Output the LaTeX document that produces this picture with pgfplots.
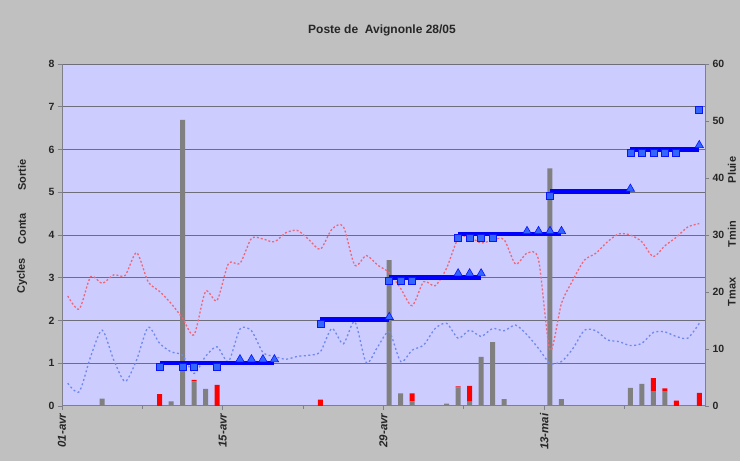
\documentclass[border=0pt]{standalone}
\usepackage{pgfplots}
\usepackage{pgfplotstable}
\pgfplotsset{compat=1.18}
\usepackage{fontspec}
\setmainfont{Liberation Sans}
\definecolor{outerbg}{HTML}{C0C0C0}
\definecolor{plotbg}{HTML}{CCCCFF}
\definecolor{gridc}{HTML}{6E6E7A}
\definecolor{axisc}{HTML}{7F7F8A}
\definecolor{barg}{HTML}{808080}
\definecolor{barr}{HTML}{FF0000}
\definecolor{tmaxc}{HTML}{EE6677}
\definecolor{tminc}{HTML}{7088EE}
\definecolor{stepc}{HTML}{0000FF}
\definecolor{markc}{HTML}{3366FF}

\pgfplotstableread{
d g r
3 1.3 0
8 0 2.1
9 0.8 0
10 50.2 0
11 4.3 0.3
12 3.0 0
13 0 3.7
22 0 1.1
28 25.6 0
29 2.2 0
30 0.8 1.4
33 0.4 0
34 3.25 0.2
35 0.76 2.75
36 8.6 0
37 11.2 0
38 1.2 0
42 41.7 0
43 1.2 0
49 3.2 0
50 3.86 0
51 2.6 2.3
52 2.6 0.5
53 0 0.94
55 0 2.3
}\bars

\pgfplotstableread{
d tmax tmin
0 19.3 4.0
1 17.0 2.5
2 22.7 8.7
3 21.5 13.3
4 23.0 8.1
5 22.9 4.3
6 26.9 8.1
7 21.8 13.8
8 20.1 11.0
9 18.0 9.5
10 15.4 8.9
11 12.5 5.7
12 20.1 8.7
13 18.5 10.4
14 25.0 7.8
15 25.0 13.5
16 29.4 13.2
17 29.3 9.4
18 28.8 8.7
19 30.4 8.2
20 30.8 8.7
21 29.2 8.9
22 27.5 9.5
23 31.0 13.6
24 31.5 10.9
25 24.7 14.8
26 26.4 7.6
27 24.7 10.4
28 23.4 13.0
29 20.6 7.8
30 17.6 9.8
31 21.8 10.7
32 21.1 13.6
33 24.2 14.5
34 29.4 11.9
35 29.6 13.3
36 28.6 12.2
37 29.1 13.6
38 29.2 13.2
39 24.9 14.2
40 26.8 12.5
41 25.7 10.1
42 9.8 7.5
43 18.0 7.8
44 22.1 10.1
45 25.6 13.3
46 26.8 13.2
47 28.8 11.6
48 30.2 11.3
49 30.0 10.6
50 28.8 11.0
51 26.2 12.9
52 28.1 13.0
53 29.6 12.2
54 31.4 11.9
55 32.0 14.5
}\temps

\begin{document}
\begin{tikzpicture}
\fill[outerbg] (0pt,0pt) rectangle (740pt,461pt);
\pgfplotsset{
  base/.style={
    at={(62pt,55pt)}, anchor=south west, scale only axis,
    width=643pt, height=342pt,
    xmin=-0.5, xmax=55.5,
    /pgf/number format/assume math mode=true,
  }
}
% axis 1: background, grid, left axis, x ticks
\begin{axis}[base,
  ymin=0, ymax=8, ytick={0,1,...,8},
  axis background/.style={fill=plotbg},
  ymajorgrids, grid style={draw=gridc, line width=1pt},
  axis x line*=bottom, axis y line*=left,
  axis line style={draw=axisc, line width=1pt, -},
  tick style={draw=axisc, line width=0.8pt},
  major tick length=4pt, minor tick length=3pt,
  tick align=outside,
  yticklabel style={font=\bfseries\fontsize{10.5}{12}\selectfont, text=black!85},
  xtick={-0.5,13.5,27.5,41.5},
  minor xtick={6.5,20.5,34.5,48.5},
  xticklabels={01-avr,15-avr,29-avr,13-mai},
  xticklabel style={rotate=90, anchor=east, font=\bfseries\itshape\fontsize{11.5}{13}\selectfont, text=black!85},
]
\addplot[draw=none] coordinates {(0,0)};
\end{axis}
% axis 2: bars (right scale)
\begin{axis}[base,
  ymin=0, ymax=60, ytick={0,10,...,60},
  axis x line=none, axis y line*=right,
  axis line style={draw=axisc, line width=1pt, -},
  tick style={draw=axisc, line width=0.8pt},
  major tick length=4pt, tick align=outside,
  yticklabel style={font=\bfseries\fontsize{10.5}{12}\selectfont, text=black!85},
  ybar stacked, bar width=5pt,
]
\addplot[fill=barg, draw=none] table[x=d, y=g] {\bars};
\addplot[fill=barr, draw=none] table[x=d, y=r] {\bars};
\end{axis}
% axis 3: temperatures (right scale)
\begin{axis}[base, ymin=0, ymax=60, hide axis]
\addplot[tmaxc, line width=1.3pt, dash pattern=on 2pt off 2pt, smooth, tension=0.45, no marks] table[x=d, y=tmax] {\temps};
\addplot[tminc, line width=1.3pt, dash pattern=on 2pt off 2.5pt, smooth, tension=0.45, no marks] table[x=d, y=tmin] {\temps};
\end{axis}
% axis 4: cycles / conta / sortie (left scale)
\begin{axis}[base, ymin=0, ymax=8, hide axis, clip=false]
\addplot[stepc, line width=4.5pt, no marks] coordinates {(8,1.01) (18,1.01)};
\addplot[stepc, line width=4.5pt, no marks] coordinates {(22,2.02) (28,2.02)};
\addplot[stepc, line width=4.5pt, no marks] coordinates {(28,3.01) (36,3.01)};
\addplot[stepc, line width=4.5pt, no marks] coordinates {(34,4.02) (43,4.02)};
\addplot[stepc, line width=4.5pt, no marks] coordinates {(42,5.02) (49,5.02)};
\addplot[stepc, line width=4.5pt, no marks] coordinates {(49,6.0) (55,6.0)};
% squares
\addplot[only marks, mark=square*, mark size=3.5pt, mark options={fill=markc, draw=stepc!80!markc, line width=0.6pt}] coordinates {
(8,0.92) (10,0.92) (11,0.92) (13,0.92)
(22,1.92)
(28,2.92) (29,2.92) (30,2.92)
(34,3.93) (35,3.93) (36,3.93) (37,3.93)
(42,4.92)
(49,5.93) (50,5.93) (51,5.93) (52,5.93) (53,5.93)
(55,6.92)
};
% triangles
\addplot[only marks, mark=triangle*, mark size=4.8pt, mark options={fill=markc, draw=stepc!80!markc, line width=0.6pt}] coordinates {
(15,1.09) (16,1.09) (17,1.09) (18,1.09)
(28,2.08)
(34,3.10) (35,3.10) (36,3.10)
(40,4.09) (41,4.09) (42,4.09) (43,4.09)
(49,5.08)
(55,6.10)
};
\end{axis}
% titles and labels
\node[font=\bfseries\fontsize{12}{14}\selectfont, text=black!85] at (382pt,431pt) {Poste de\ \ Avignonle 28/05};
\begin{scope}[font=\bfseries\fontsize{11}{13}\selectfont, text=black!85]
\node[rotate=90] at (22pt,185pt) {Cycles};
\node[rotate=90] at (22pt,232pt) {Conta};
\node[rotate=90] at (22pt,286pt) {Sortie};
\node[rotate=90] at (732pt,169pt) {Tmax};
\node[rotate=90] at (732pt,227pt) {Tmin};
\node[rotate=90] at (732pt,291pt) {Pluie};
\end{scope}
\end{tikzpicture}
\end{document}
